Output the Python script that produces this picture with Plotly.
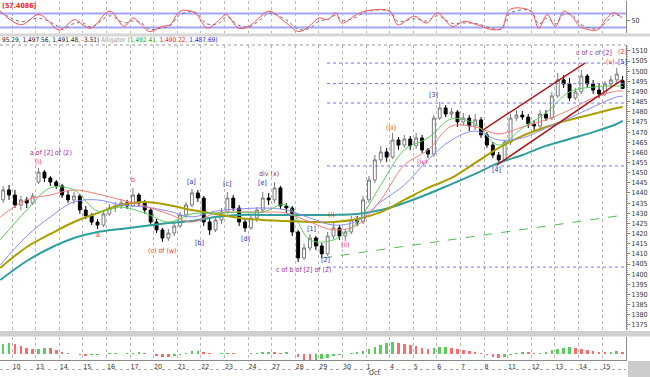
import plotly.graph_objects as go
from plotly.subplots import make_subplots

# ---------------- data ----------------
DAY_LABELS = ["10", "13", "14", "15", "16", "17", "20", "21", "22", "23", "24", "27", "28",
              "29", "30", "1", "4", "5", "6", "7", "8", "11", "12", "13", "14", "15"]
MONTH_LABEL = "Oct"
MONTH_DAY_INDEX = 15
BARS_PER_DAY = 4
LEAD_BARS = 2          # bars of the previous session visible at the left edge

OPEN = [1436.6, 1441.5, 1439.0, 1434.1, 1436.6, 1435.1, 1445.4, 1450.3, 1447.4, 1445.4,
        1443.5, 1439.0, 1436.6, 1438.5, 1431.6, 1428.7, 1425.7, 1424.2, 1429.7, 1432.6,
        1433.6, 1435.1, 1433.6, 1439.0, 1435.1, 1431.6, 1425.7, 1421.8, 1417.8, 1420.3,
        1423.7, 1429.2, 1434.1, 1440.0, 1437.5, 1425.7, 1421.8, 1426.7, 1430.6, 1437.5,
        1432.6, 1425.7, 1422.8, 1427.7, 1431.6, 1437.5, 1436.6, 1442.5, 1433.6, 1432.6,
        1420.8, 1408.0, 1412.9, 1417.8, 1413.9, 1410.0, 1418.8, 1422.8, 1418.8, 1420.8,
        1426.7, 1425.7, 1436.6, 1446.4, 1456.3, 1460.2, 1457.7, 1466.1, 1463.6, 1466.6,
        1463.2, 1467.1, 1461.2, 1459.2, 1476.9, 1481.9, 1478.9, 1479.9, 1475.0, 1476.9,
        1473.0, 1476.0, 1468.6, 1463.6, 1458.7, 1456.3, 1465.1, 1476.9, 1478.4, 1477.4,
        1474.0, 1473.0, 1478.9, 1476.9, 1487.8, 1495.7, 1493.7, 1486.8, 1489.8, 1497.6,
        1493.7, 1490.7, 1488.8, 1493.7, 1495.7, 1495.3]
HIGH = [1443.5, 1443.9, 1441.5, 1438.5, 1438.0, 1440.0, 1452.3, 1451.3, 1448.4, 1446.4,
        1444.4, 1441.0, 1440.5, 1439.5, 1433.6, 1430.1, 1427.2, 1431.1, 1434.6, 1435.6,
        1437.0, 1436.6, 1442.5, 1440.0, 1436.6, 1432.6, 1427.2, 1422.8, 1422.3, 1425.7,
        1430.6, 1435.6, 1442.0, 1441.5, 1438.5, 1427.7, 1428.7, 1432.6, 1440.5, 1439.0,
        1434.1, 1427.2, 1429.7, 1433.1, 1440.5, 1440.0, 1445.4, 1443.5, 1435.1, 1433.6,
        1421.8, 1414.9, 1419.8, 1418.8, 1415.4, 1420.8, 1425.7, 1424.2, 1422.3, 1428.7,
        1428.7, 1438.5, 1448.4, 1458.7, 1463.2, 1462.2, 1469.6, 1467.6, 1468.6, 1468.1,
        1469.6, 1468.6, 1462.2, 1478.4, 1484.8, 1483.3, 1481.9, 1480.9, 1479.4, 1478.4,
        1478.9, 1477.4, 1470.0, 1465.1, 1460.2, 1466.1, 1478.9, 1480.9, 1480.4, 1478.9,
        1476.0, 1480.9, 1480.9, 1489.8, 1499.1, 1498.1, 1496.6, 1491.7, 1500.6, 1498.6,
        1495.7, 1493.7, 1495.2, 1497.6, 1501.6, 1497.6]
LOW = [1435.1, 1436.6, 1432.6, 1431.6, 1432.6, 1434.1, 1444.4, 1445.4, 1443.5, 1442.0,
       1437.5, 1435.1, 1434.6, 1429.7, 1427.2, 1424.2, 1422.3, 1423.3, 1428.7, 1430.6,
       1432.1, 1432.1, 1433.1, 1433.6, 1429.7, 1424.2, 1420.3, 1415.9, 1416.4, 1418.8,
       1422.8, 1427.7, 1433.1, 1435.6, 1423.7, 1419.3, 1420.8, 1424.7, 1429.7, 1431.1,
       1423.7, 1420.8, 1421.8, 1425.7, 1430.1, 1434.1, 1435.1, 1432.1, 1430.1, 1418.8,
       1406.0, 1407.0, 1411.4, 1411.9, 1408.0, 1409.0, 1417.3, 1416.9, 1416.4, 1419.8,
       1423.7, 1424.7, 1435.1, 1444.9, 1454.8, 1455.3, 1456.8, 1461.2, 1462.2, 1461.2,
       1461.7, 1459.7, 1457.2, 1457.7, 1476.0, 1477.4, 1476.9, 1472.5, 1473.0, 1470.5,
       1471.0, 1467.1, 1462.2, 1457.2, 1454.3, 1455.3, 1463.6, 1475.5, 1476.0, 1472.0,
       1471.0, 1472.0, 1475.5, 1476.0, 1486.8, 1491.7, 1485.3, 1485.8, 1488.8, 1491.7,
       1488.8, 1486.8, 1487.8, 1492.2, 1494.2, 1491.2]
CLOSE = [1441.5, 1439.0, 1434.1, 1436.6, 1435.1, 1438.5, 1450.3, 1447.4, 1445.4, 1443.5,
         1439.0, 1436.6, 1438.5, 1431.6, 1428.7, 1425.7, 1424.2, 1429.7, 1432.6, 1433.6,
         1435.1, 1433.6, 1439.0, 1435.1, 1431.6, 1425.7, 1421.8, 1417.8, 1420.3, 1423.7,
         1429.2, 1434.1, 1440.0, 1437.5, 1425.7, 1421.8, 1426.7, 1430.6, 1437.5, 1432.6,
         1425.7, 1422.8, 1427.7, 1431.6, 1437.5, 1436.6, 1442.5, 1433.6, 1432.6, 1420.8,
         1408.0, 1412.9, 1417.8, 1413.9, 1410.0, 1418.8, 1422.8, 1418.8, 1420.8, 1426.7,
         1425.7, 1436.6, 1446.4, 1456.3, 1460.2, 1457.7, 1466.1, 1463.6, 1466.6, 1463.2,
         1467.1, 1461.2, 1459.2, 1476.9, 1481.9, 1478.9, 1479.9, 1475.0, 1476.9, 1473.0,
         1476.0, 1468.6, 1463.6, 1458.7, 1456.3, 1465.1, 1476.9, 1478.4, 1477.4, 1474.0,
         1473.0, 1478.9, 1476.9, 1487.8, 1495.7, 1493.7, 1486.8, 1489.8, 1497.6, 1493.7,
         1490.7, 1488.8, 1493.7, 1495.7, 1498.6, 1491.5]

# moving-average lines, sampled once per session (x in bar slots)
MA_X = [-0.5, 4, 8, 12, 16, 20, 24, 28, 32, 36, 40, 44, 48, 52, 56, 60, 64, 68, 72, 76,
        80, 84, 88, 92, 96, 100, 104, 105]
MA_GREEN = [1416.9, 1431.6, 1442.5, 1441.5, 1431.1, 1433.1, 1430.1, 1425.7, 1429.7, 1430.1,
            1430.6, 1430.6, 1434.1, 1416.9, 1416.9, 1425.7, 1443.9, 1461.2, 1467.1, 1476.5,
            1474.0, 1463.6, 1472.0, 1479.4, 1489.8, 1492.2, 1492.7, 1492.4]
MA_RED = [1428.2, 1436.6, 1439.0, 1441.5, 1439.5, 1436.6, 1433.6, 1429.7, 1425.7, 1430.1,
          1430.6, 1430.6, 1430.1, 1425.7, 1421.8, 1424.2, 1436.6, 1453.8, 1461.2, 1473.0,
          1472.5, 1469.1, 1472.5, 1476.0, 1480.9, 1486.8, 1490.2, 1490.2]
MA_BLUE = [1404.5, 1418.8, 1428.2, 1435.6, 1436.6, 1434.1, 1433.1, 1431.1, 1428.2, 1431.1,
           1432.1, 1432.6, 1431.6, 1427.7, 1424.2, 1426.2, 1435.6, 1443.9, 1456.3, 1466.1,
           1470.5, 1466.1, 1467.1, 1472.0, 1476.9, 1482.4, 1487.3, 1487.7]
MA_OLIVE = [1403.1, 1413.4, 1419.8, 1425.7, 1430.1, 1434.1, 1435.6, 1434.1, 1431.6, 1429.7,
            1427.7, 1426.7, 1426.2, 1425.7, 1425.7, 1427.2, 1430.6, 1436.6, 1442.5, 1447.4,
            1454.8, 1462.2, 1468.1, 1472.5, 1476.0, 1478.9, 1481.9, 1482.4]
MA_TEAL = [1397.1, 1406.5, 1412.9, 1417.8, 1420.8, 1422.3, 1423.7, 1425.2, 1426.2, 1428.2,
           1429.2, 1429.2, 1429.2, 1429.2, 1429.2, 1429.7, 1431.6, 1435.1, 1439.5, 1444.4,
           1449.4, 1454.8, 1458.7, 1463.2, 1466.6, 1470.0, 1474.0, 1475.5]

# oscillator (top pane)
OSC_X = [-0.5, 3.0, 6.1, 9.3, 10.0, 12.1, 13.5, 14.9, 18.1, 20.5, 22.0, 23.4, 24.8, 26.9,
         28.3, 30.0, 32.5, 34.6, 36.7, 37.8, 39.9, 41.6, 43.7, 45.1, 48.0, 50.1, 51.8, 53.6,
         55.0, 56.4, 57.4, 59.9, 61.3, 65.5, 66.9, 69.7, 71.8, 73.6, 76.1, 78.2, 80.3, 83.1,
         84.5, 85.9, 89.4, 90.8, 92.2, 93.6, 95.0, 96.4, 97.8, 100.7, 102.1, 103.5, 104.9]
OSC_MAIN = [90.2, 31.7, 75.6, 9.8, 12.7, 53.7, 31.7, 17.1, 90.2, 24.4, 61.0, 31.7, 2.5, 24.4,
            31.7, 90.2, 82.9, 17.1, 53.7, 75.6, 17.1, 24.4, 68.3, 90.2, 39.0, 2.5, 24.4, 61.0,
            53.7, 82.9, 39.0, 75.6, 90.2, 90.2, 31.7, 68.3, 39.0, 82.9, 24.4, 46.4, 31.7, 9.8,
            17.1, 97.6, 90.2, 17.1, 75.6, 24.4, 90.2, 68.3, 24.4, 9.8, 53.7, 82.9, 61.0]
OSC_SIGNAL = [88, 45, 60, 25, 12, 38, 40, 22, 70, 40, 48, 40, 12, 18, 28, 75, 86, 35, 40, 65,
              30, 22, 55, 82, 52, 12, 15, 48, 55, 72, 50, 65, 86, 90, 45, 58, 48, 70, 38, 40,
              36, 15, 14, 80, 92, 35, 60, 35, 75, 75, 35, 14, 40, 72, 68]
OSC_BANDS = [80, 20]
OSC_TITLE = "(57.4086)"

# histogram (bottom pane), one value per bar
AO = [10, 11, 10.5, 8, 6.5, 5, 5.5, 6.5, 6, 4, 2.5, 1, 0.5, -0.5, -1.5, -1, -0.5, 0.5, 0.8, 1,
      0.5, 0.8, 1.5, 2, 1.5, 0, -1.5, -2.5, -3, -2, -0.5, 1.5, 3, 3.5, 2.5, 1, 0.5, 1, 1.5, 1,
      0.5, 0.5, 1, 1.5, 2, 2.5, 2, 1.5, 2, 0.5, -3, -6, -7, -6.5, -5, -3.5, -2, -1, 0.5, 1.5,
      2, 3.5, 5.5, 7.5, 9.5, 11, 12, 11.5, 10.5, 9.5, 8, 6.5, 5.5, 6, 7, 7.5, 6.5, 5, 4, 3,
      2, 1, -1, -2.5, -4, -3, -1, 1.5, 2.5, 2, 1, 1.5, 2.5, 4, 5.5, 6.5, 7, 6.5, 5.5, 4.5,
      3.5, 2.5, 2, 2.5, 3, 2.5]

# drawn studies on the price pane
LEVELS = [1504.0, 1493.9, 1484.3, 1453.3, 1403.5]
LEVEL_START = 54.9
CHANNEL_UP_X = [81.3, 98.6]
CHANNEL_UP_Y = [1471.0, 1504.0]
CHANNEL_LO_X = [83.7, 104.9]
CHANNEL_LO_Y = [1453.8, 1495.7]
SUPPORT_X = [54.2, 105.4]
SUPPORT_Y = [1408.0, 1429.2]

HEADER_OHLC = "95.29, 1,497.56, 1,491.48, -3.51)"
HEADER_STUDY = "Alligator"
ALLIGATOR_VALUES = ["1,492.41", "1,490.22", "1,487.69"]

# wave labels: (bar index, text, colour key, 'high'/'low')
WAVES = [
    (6, "(i)", "red", "high"), (6, "a of [2] of (2)", "purple", "high"),
    (16, "a", "red", "low"), (22, "b", "red", "high"), (27, "(c) of (w)", "red", "low"),
    (32, "[a]", "blue", "high"), (35, "[b]", "blue", "low"), (38, "[c]", "blue", "high"),
    (41, "[d]", "blue", "low"), (44, "[e]", "blue", "high"), (46, "div (x)", "brown", "high"),
    (50, "c of b of [2] of (2)", "purple", "low"), (52, "[1]", "blue", "high"),
    (54, "[2]", "blue", "low"), (56, "(i)", "red", "high"), (57, "(ii)", "red", "low"),
    (66, "(iii)", "red", "high"), (72, "(iv)", "red", "low"), (74, "[3]", "blue", "high"),
    (84, "[4]", "blue", "low"), (104, "(v)", "red", "high"), (105, "[5]", "blue", "high"),
    (98, "c of c of [2]", "purple", "high"), (105, "(2)", "red", "high"),
]
# label offsets in pixels (layout only)
WAVE_SHIFT = [(0, 6), (12, 15), (0, -6), (0, 8), (0, -9), (0, 7), (-10, -8), (0, 8),
              (0, -7), (0, 9), (-6, 8), (6, -8), (2, 5), (4, -2), (-2, 7), (6, -5),
              (-2, 5), (-6, -4), (-6, 7), (-2, -6), (-6, 6), (0, 14), (13, 17), (0, 24)]

# ---------------- figure ----------------
W, H = 650, 377
ML, MR, MT, MB = 0, 24, 0, 17
PH = H - MT - MB           # plot-area height in px
PW = W - ML - MR


def py(px):                 # pixel row -> paper y
    return (PH - px) / PH


COL = {"red": "#ff2a2a", "blue": "#2a2acc", "purple": "#9a2a9a", "brown": "#a03030"}
FONT = "Liberation Sans Narrow, DejaVu Sans Condensed, Liberation Sans, sans-serif"

fig = make_subplots(rows=3, cols=1, shared_xaxes=True, vertical_spacing=0.0)

slots = list(range(len(CLOSE)))

# oscillator pane
for lvl in OSC_BANDS:
    fig.add_trace(go.Scatter(x=[-1, 107], y=[lvl, lvl], mode="lines",
                             line=dict(color="#a4a4ff", width=2), hoverinfo="skip"), row=1, col=1)
fig.add_trace(go.Scatter(x=OSC_X, y=OSC_SIGNAL, mode="lines", line_shape="spline",
                         line=dict(color="#707070", width=1, dash="dot")), row=1, col=1)
fig.add_trace(go.Scatter(x=OSC_X, y=OSC_MAIN, mode="lines", line_shape="spline",
                         line=dict(color="#ff5050", width=1)), row=1, col=1)

# price pane: moving averages
for ys, c, w in [(MA_TEAL, "#2e9e9e", 2), (MA_OLIVE, "#ab9f00", 2), (MA_BLUE, "#8a8aff", 1),
                 (MA_RED, "#ff7a7a", 1), (MA_GREEN, "#5ccc5c", 1)]:
    fig.add_trace(go.Scatter(x=MA_X, y=ys, mode="lines", line_shape="spline",
                             line=dict(color=c, width=w)), row=2, col=1)

# horizontal levels
for lvl in LEVELS:
    fig.add_trace(go.Scatter(x=[LEVEL_START, 106], y=[lvl, lvl], mode="lines",
                             line=dict(color="#7070ff", width=1, dash="dot")), row=2, col=1)
# support line & channel
fig.add_trace(go.Scatter(x=SUPPORT_X, y=SUPPORT_Y, mode="lines",
                         line=dict(color="#55bb55", width=1, dash="dash")), row=2, col=1)
for xs, ys in [(CHANNEL_UP_X, CHANNEL_UP_Y), (CHANNEL_LO_X, CHANNEL_LO_Y)]:
    fig.add_trace(go.Scatter(x=xs, y=ys, mode="lines",
                             line=dict(color="#b01818", width=1.5)), row=2, col=1)

# candles
fig.add_trace(go.Candlestick(x=slots, open=OPEN, high=HIGH, low=LOW, close=CLOSE,
                             whiskerwidth=0,
                             increasing=dict(fillcolor="#ffffff", line=dict(color="#7a7a7a", width=1)),
                             decreasing=dict(fillcolor="#000000", line=dict(color="#000000", width=1))),
              row=2, col=1)

# histogram pane
ao_colors = ["#5ccc5c" if i == 0 or AO[i] >= AO[i - 1] else "#ff6a6a" for i in range(len(AO))]
fig.add_trace(go.Bar(x=slots, y=AO, marker=dict(color=ao_colors, line=dict(width=0)), width=0.45),
              row=3, col=1)

# axes
x_left = -12 / 5.9 + 1.5
x_right = (PW - 12) / 5.9 + 1.5
day_ticks = [LEAD_BARS + BARS_PER_DAY * j - 0.5 for j in range(len(DAY_LABELS))]
for r in (1, 2, 3):
    fig.update_xaxes(range=[x_left, x_right], tickvals=day_ticks, ticktext=DAY_LABELS,
                     showgrid=True, gridcolor="#b8b8b8", griddash="dot", gridwidth=1,
                     zeroline=False, showticklabels=(r == 3), ticks="",
                     rangeslider_visible=False, row=r, col=1)
fig.update_xaxes(showline=True, linecolor="#8a8a8a", ticklabelposition="outside right",
                 tickfont=dict(size=7, color="#333333", family=FONT), row=3, col=1)

fig.update_yaxes(domain=[py(33), py(1)], range=[-3.6, 133.6], side="right",
                 tickvals=[50], ticks="outside", ticklen=3, tickcolor="#808080",
                 showgrid=False, zeroline=False, showline=True, linecolor="#8a8a8a",
                 tickfont=dict(size=7, color="#333333", family=FONT), row=1, col=1)
fig.update_yaxes(domain=[py(330), py(45)], range=[1372.5, 1512.9], side="right",
                 tick0=1375, dtick=5, ticks="outside", ticklen=3, tickcolor="#808080",
                 minor=dict(dtick=1, ticklen=1, tickcolor="#a0a0a0", ticks="outside"),
                 showgrid=False, zeroline=False, showline=True, linecolor="#8a8a8a",
                 tickfont=dict(size=7, color="#333333", family=FONT), row=2, col=1)
fig.update_yaxes(domain=[py(360), py(337)], range=[-6, 17], side="right",
                 showticklabels=False, ticks="", showgrid=False, zeroline=False,
                 showline=True, linecolor="#8a8a8a", row=3, col=1)

# wave labels
ann = []
for (idx, txt, ck, where), (dx, dy) in zip(WAVES, WAVE_SHIFT):
    yv = HIGH[idx] if where == "high" else LOW[idx]
    ann.append(dict(x=idx, y=yv, xref="x2", yref="y2", text=txt, showarrow=False,
                    xshift=dx, yshift=dy, yanchor="middle",
                    font=dict(size=7, color=COL[ck], family=FONT)))

# header texts
ann.append(dict(x=0, y=py(6), xref="paper", yref="paper", text="<b>" + OSC_TITLE + "</b>",
                showarrow=False, xanchor="left", yanchor="middle",
                font=dict(size=7, color="#ff2020", family=FONT)))
hdr = (f"<span style='color:#202020'>{HEADER_OHLC}</span> "
       f"<span style='color:#9a9a9a'>{HEADER_STUDY}</span> "
       f"<span style='color:#22aa22'>({ALLIGATOR_VALUES[0]},</span> "
       f"<span style='color:#ff2020'>{ALLIGATOR_VALUES[1]},</span> "
       f"<span style='color:#2020ff'>{ALLIGATOR_VALUES[2]})</span>")
ann.append(dict(x=0, y=py(40), xref="paper", yref="paper", text=hdr, showarrow=False,
                xanchor="left", yanchor="middle", font=dict(size=6.5, family=FONT)))
ann.append(dict(x=day_ticks[MONTH_DAY_INDEX], y=py(373), xref="x3", yref="paper",
                text=MONTH_LABEL, showarrow=False, xanchor="left", yanchor="middle", xshift=1,
                font=dict(size=7, color="#333333", family=FONT)))

# decorative separators (layout)
xr = W / PW
shapes = [
    dict(type="rect", xref="paper", yref="paper", x0=0, x1=xr, y0=py(36.5), y1=py(33.5),
         fillcolor="#d6d6d6", line=dict(width=0), layer="below"),
    dict(type="line", xref="paper", yref="paper", x0=0, x1=1, y0=py(45), y1=py(45),
         line=dict(color="#9a9a9a", width=1, dash="dot")),
    dict(type="rect", xref="paper", yref="paper", x0=0, x1=xr, y0=py(336.5), y1=py(331),
         fillcolor="#d0d0d0", line=dict(width=0), layer="below"),
    dict(type="line", xref="paper", yref="paper", x0=0, x1=1, y0=py(369.5), y1=py(369.5),
         line=dict(color="#a8a8a8", width=1, dash="dot")),
    dict(type="rect", xref="paper", yref="paper", x0=(PW + 2) / PW, x1=xr,
         y0=py(377), y1=py(361), fillcolor="#cccccc", line=dict(width=0)),
]

fig.update_layout(width=W, height=H, margin=dict(l=ML, r=MR, t=MT, b=MB),
                  paper_bgcolor="#ffffff", plot_bgcolor="#ffffff", showlegend=False,
                  hovermode=False, bargap=0, annotations=ann, shapes=shapes,
                  font=dict(family=FONT, size=7))

fig.write_html("out.html",
               config={"displayModeBar": False, "staticPlot": True},
               post_script="document.body.style.margin='0px';"
                           "document.body.style.padding='0px';"
                           "document.documentElement.style.overflow='hidden';")
